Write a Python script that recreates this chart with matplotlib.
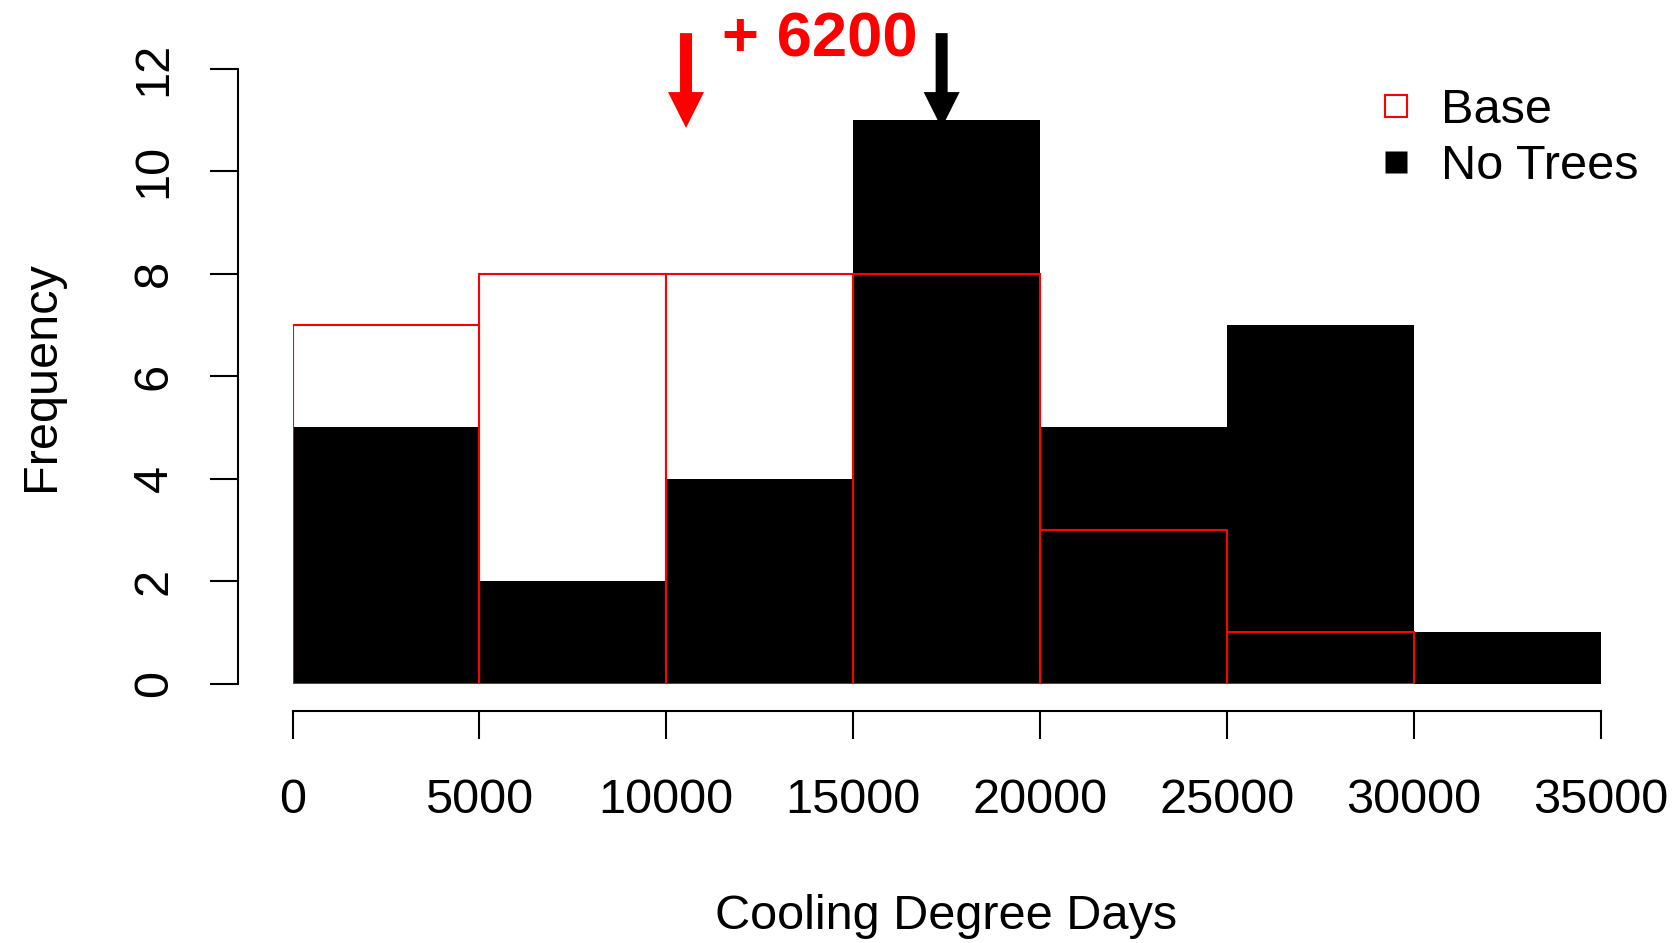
import matplotlib
matplotlib.use("Agg")
import matplotlib.pyplot as plt
from matplotlib.lines import Line2D

# Histogram bins and counts
base_edges = [0, 5000, 10000, 15000, 20000, 25000, 30000]
base_counts = [7, 8, 8, 8, 3, 1]
no_trees_edges = [0, 5000, 10000, 15000, 20000, 25000, 30000, 35000]
no_trees_counts = [5, 2, 4, 11, 5, 7, 1]

x_ticks = [0, 5000, 10000, 15000, 20000, 25000, 30000, 35000]
y_ticks = [0, 2, 4, 6, 8, 10, 12]

# Centre markers of the two distributions and the shift between them
base_center = 10530
no_trees_center = 17370
shift_text = "+ 6200"

plt.rcParams["font.family"] = ["Liberation Sans", "DejaVu Sans"]

W, H = 1678, 943
fig = plt.figure(figsize=(W / 100, H / 100), dpi=100)
ax = fig.add_axes([292.5 / W, (H - 683.7) / H, 1308 / W, 615.2 / H])

lw = 1.5
fs = 35

# No Trees: solid black bars
ax.bar(no_trees_edges[:-1], no_trees_counts, width=5000, align="edge",
       color="black", edgecolor="none", linewidth=0)
# Base: red outlined bars on top
ax.bar(base_edges[:-1], base_counts, width=5000, align="edge",
       fill=False, edgecolor="red", linewidth=lw)

ax.set_xlim(0, 35000)
ax.set_ylim(0, 12)

for side in ("top", "right"):
    ax.spines[side].set_visible(False)
ax.spines["left"].set_position(("outward", 39.2))
ax.spines["bottom"].set_position(("outward", 19.7))
ax.spines["left"].set_bounds(0, 12)
ax.spines["bottom"].set_bounds(0, 35000)
for side in ("left", "bottom"):
    ax.spines[side].set_linewidth(lw)

ax.set_xticks(x_ticks)
ax.set_xticklabels([str(v) for v in x_ticks])
ax.set_yticks(y_ticks)
ax.set_yticklabels([str(v) for v in y_ticks])
ax.tick_params(axis="both", direction="out", length=20.2, width=lw,
               labelsize=fs, colors="black")
ax.tick_params(axis="x", pad=28)
ax.tick_params(axis="y", pad=24, labelrotation=90)
for lab in ax.get_yticklabels():
    lab.set_verticalalignment("center")

ax.set_xlabel("Cooling Degree Days", fontsize=fs, labelpad=51)
ax.set_ylabel("Frequency", fontsize=fs, labelpad=49)

# Arrows marking the centre of each distribution
arrow_top, arrow_tip = 12.69, 10.84
for xc, col in ((base_center, "red"), (no_trees_center, "black")):
    ax.arrow(xc, arrow_top, 0, arrow_tip - arrow_top, width=321,
             head_width=963, head_length=0.70, length_includes_head=True,
             color=col, linewidth=0, clip_on=False, zorder=5)

ax.text(14110, 12.23, shift_text, color="red", fontsize=45.5,
        fontweight="bold", ha="center", va="baseline", clip_on=False)

handles = [
    Line2D([], [], linestyle="none", marker="s", markersize=15.5,
           markerfacecolor="none", markeredgecolor="red", markeredgewidth=lw),
    Line2D([], [], linestyle="none", marker="s", markersize=16,
           markerfacecolor="black", markeredgecolor="none"),
]
leg = ax.legend(handles, ["Base", "No Trees"], loc="upper left",
                bbox_to_anchor=(1372 / W, 1 - 88 / H),
                bbox_transform=fig.transFigure, frameon=False, fontsize=fs,
                borderpad=0, borderaxespad=0, handlelength=1.0,
                handletextpad=0.41, labelspacing=0.235)

fig.savefig("out.png", dpi=100, facecolor="white")
